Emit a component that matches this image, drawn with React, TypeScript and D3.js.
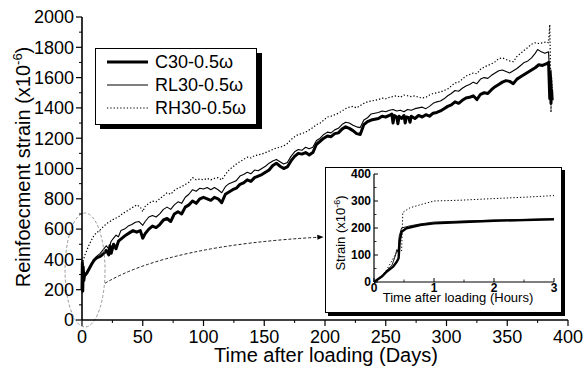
import React from "react";
import * as d3 from "d3";

type P = [number, number];

// Main chart series: [day, strain x10^-6]
const c30Main: P[] = [
  [0, 200], [0.3, 380], [0.6, 190], [1, 350], [1.5, 260], [2, 290], [4, 310], [6, 340], [8, 370], [10, 395],
  [12, 410], [15, 420], [18, 440], [20, 460], [22, 430], [23, 490], [24, 440], [26, 500], [28, 470], [30, 520],
  [33, 540], [36, 560], [39, 575], [42, 590], [45, 580], [48, 590], [50, 540], [52, 570], [55, 600], [58, 620],
  [61, 610], [64, 630], [67, 660], [70, 670], [73, 650], [76, 700], [79, 715], [82, 700], [85, 745], [88, 760],
  [91, 785], [94, 770], [97, 800], [100, 810], [103, 800], [106, 790], [109, 810], [112, 800], [115, 775], [118, 830],
  [121, 845], [124, 860], [127, 870], [130, 895], [133, 905], [136, 925], [139, 915], [142, 940], [145, 950], [148, 960],
  [151, 975], [154, 990], [157, 1020], [160, 1035], [163, 1015], [166, 1000], [169, 1010], [172, 1050], [175, 1080], [178, 1100],
  [181, 1095], [184, 1105], [187, 1090], [190, 1105], [193, 1160], [196, 1180], [199, 1200], [202, 1215], [205, 1210], [208, 1230],
  [211, 1235], [214, 1260], [217, 1275], [220, 1265], [223, 1250], [226, 1230], [229, 1225], [232, 1290], [235, 1310], [238, 1320],
  [241, 1325], [244, 1330], [247, 1345], [250, 1340], [253, 1350], [255, 1360], [256, 1300], [257, 1350], [259, 1340], [260, 1295],
  [261, 1345], [263, 1330], [265, 1350], [266, 1300], [267, 1340], [269, 1335], [270, 1305], [271, 1345], [274, 1330], [277, 1350],
  [280, 1340], [283, 1355], [286, 1345], [289, 1365], [292, 1370], [295, 1380], [298, 1395], [301, 1410], [304, 1420], [307, 1440],
  [310, 1430], [313, 1450], [316, 1465], [319, 1470], [322, 1480], [325, 1455], [328, 1490], [331, 1500], [334, 1495], [337, 1520],
  [340, 1540], [343, 1555], [346, 1570], [349, 1580], [352, 1575], [355, 1560], [358, 1590], [361, 1605], [364, 1620], [367, 1635],
  [370, 1650], [373, 1665], [376, 1685], [379, 1680], [382, 1690], [384, 1700], [385, 1460], [385.5, 1600], [386, 1430], [386.5, 1520], [387, 1450],
];

const rl30Main: P[] = [
  [0, 210], [0.4, 370], [0.8, 250], [1.2, 330], [2, 300], [4, 320], [6, 345], [8, 375], [10, 400], [12, 420],
  [15, 440], [18, 470], [20, 490], [22, 470], [24, 520], [26, 540], [28, 560], [30, 550], [32, 590], [35, 600],
  [38, 620], [41, 630], [44, 645], [47, 650], [50, 625], [52, 650], [55, 680], [58, 690], [61, 680], [64, 700],
  [67, 730], [70, 745], [73, 730], [76, 760], [79, 780], [82, 770], [85, 810], [88, 830], [91, 860], [94, 850],
  [97, 870], [100, 865], [103, 875], [106, 860], [109, 875], [112, 860], [115, 840], [118, 880], [121, 900], [124, 910],
  [127, 920], [130, 950], [133, 960], [136, 975], [139, 965], [142, 990], [145, 985], [148, 1000], [151, 1015], [154, 1035],
  [157, 1050], [160, 1060], [163, 1045], [166, 1030], [169, 1040], [172, 1080], [175, 1110], [178, 1125], [181, 1120], [184, 1140],
  [187, 1130], [190, 1140], [193, 1185], [196, 1200], [199, 1225], [202, 1240], [205, 1235], [208, 1255], [211, 1265], [214, 1290],
  [217, 1305], [220, 1300], [223, 1285], [226, 1275], [229, 1270], [232, 1320], [235, 1335], [238, 1360], [241, 1365], [244, 1370],
  [247, 1380], [250, 1375], [253, 1385], [256, 1390], [259, 1380], [262, 1385], [265, 1375], [268, 1390], [271, 1385], [274, 1395],
  [277, 1400], [280, 1405], [283, 1395], [286, 1410], [289, 1430], [292, 1440], [295, 1445], [298, 1460], [301, 1480], [304, 1495],
  [307, 1515], [310, 1510], [313, 1530], [316, 1545], [319, 1555], [322, 1570], [325, 1560], [328, 1590], [331, 1600], [334, 1595],
  [337, 1615], [340, 1630], [343, 1645], [346, 1650], [349, 1640], [352, 1630], [355, 1645], [358, 1660], [361, 1680], [364, 1700],
  [367, 1710], [370, 1730], [373, 1760], [375, 1785], [378, 1770], [381, 1760], [384, 1770], [385, 1600], [386, 1650], [387, 1530],
];

const rh30Main: P[] = [
  [0, 320], [0.5, 400], [1, 390], [2, 420], [4, 460], [6, 500], [8, 530], [10, 560], [12, 575], [15, 595],
  [18, 620], [21, 640], [24, 655], [27, 670], [30, 680], [33, 700], [36, 715], [39, 730], [42, 745], [45, 760],
  [48, 745], [50, 715], [52, 750], [55, 770], [58, 785], [61, 780], [64, 800], [67, 820], [70, 840], [73, 830],
  [76, 855], [79, 870], [82, 880], [85, 895], [88, 910], [91, 940], [94, 925], [97, 930], [100, 925], [103, 935],
  [106, 925], [109, 935], [112, 940], [115, 925], [118, 960], [121, 990], [124, 1010], [127, 1030], [130, 1045], [133, 1060],
  [136, 1075], [139, 1070], [142, 1085], [145, 1090], [148, 1095], [151, 1105], [154, 1115], [157, 1125], [160, 1135], [163, 1140],
  [166, 1150], [169, 1165], [172, 1190], [175, 1210], [178, 1225], [181, 1230], [184, 1240], [187, 1255], [190, 1270], [193, 1290],
  [196, 1300], [199, 1320], [202, 1340], [205, 1345], [208, 1355], [211, 1365], [214, 1380], [217, 1395], [220, 1405], [223, 1410],
  [226, 1400], [229, 1415], [232, 1430], [235, 1440], [238, 1445], [241, 1450], [244, 1455], [247, 1465], [250, 1460], [253, 1470],
  [256, 1475], [259, 1480], [262, 1470], [265, 1485], [268, 1480], [271, 1475], [274, 1480], [277, 1470], [280, 1465], [283, 1470],
  [286, 1485], [289, 1495], [292, 1500], [295, 1505], [298, 1515], [301, 1525], [304, 1545], [307, 1565], [310, 1570], [313, 1590],
  [316, 1610], [319, 1620], [322, 1630], [325, 1625], [328, 1655], [331, 1670], [334, 1680], [337, 1690], [340, 1705], [343, 1725],
  [346, 1730], [349, 1720], [352, 1710], [355, 1705], [358, 1740], [361, 1760], [364, 1780], [367, 1800], [370, 1820], [373, 1830],
  [376, 1825], [379, 1830], [382, 1835], [384, 1830], [385, 1950], [385.5, 1700], [386, 1370], [386.5, 1600], [387, 1500],
];

// Inset series: [hours, strain]
const c30Inset: P[] = [
  [0, 0], [0.13, 20], [0.21, 38], [0.32, 57], [0.38, 75], [0.41, 88], [0.43, 155], [0.46, 186], [0.54, 199],
  [0.77, 211], [1.0, 217], [1.5, 222], [2.0, 227], [2.5, 229], [3.0, 232],
];
const rl30Inset: P[] = [
  [0, 0], [0.12, 18], [0.2, 40], [0.3, 62], [0.36, 100], [0.38, 120], [0.4, 110], [0.42, 170], [0.46, 200],
  [0.6, 208], [0.77, 215], [1.0, 222], [1.5, 226], [2.0, 229], [2.5, 232], [3.0, 235],
];
const rh30Inset: P[] = [
  [0, 0], [0.1, 15], [0.21, 45], [0.29, 75], [0.41, 125], [0.46, 115], [0.47, 190], [0.48, 258], [0.6, 275],
  [0.77, 286], [1.0, 300], [1.45, 303], [2.0, 309], [2.5, 314], [3.0, 320],
];

const legendLabels = ["C30-0.5ω", "RL30-0.5ω", "RH30-0.5ω"];
const mainXTicks = [0, 50, 100, 150, 200, 250, 300, 350, 400];
const mainYTicks = [0, 200, 400, 600, 800, 1000, 1200, 1400, 1600, 1800, 2000];
const insetXTicks = [0, 1, 2, 3];
const insetYTicks = [0, 100, 200, 300, 400];

const FONT = "'Liberation Sans', Arial, Helvetica, sans-serif";

const styles = [
  { width: 3, dash: undefined as string | undefined },
  { width: 1.1, dash: undefined as string | undefined },
  { width: 1.2, dash: "1.3,2" },
];

export default function App() {
  const x = d3.scaleLinear().domain([0, 400]).range([82, 568]);
  const y = d3.scaleLinear().domain([0, 2000]).range([320, 17]);
  const line = d3.line<P>().x((d) => x(d[0])).y((d) => y(d[1]));

  const ix = d3.scaleLinear().domain([0, 3]).range([374, 554]);
  const iy = d3.scaleLinear().domain([0, 400]).range([282, 174]);
  const iline = d3.line<P>().x((d) => ix(d[0])).y((d) => iy(d[1]));

  const mainSeries = [c30Main, rl30Main, rh30Main];
  const insetSeries = [c30Inset, rl30Inset, rh30Inset];

  const xMinor = d3.range(0, 401, 25).filter((v) => v % 50 !== 0);
  const yMinor = d3.range(0, 2001, 100).filter((v) => v % 200 !== 0);
  const ixMinor = [0.5, 1.5, 2.5];
  const iyMinor = [50, 150, 250, 350];

  // arrow geometry
  const a0: P = [x(19), y(243)];
  const a1: P = [170, 245];
  const a2: P = [323, 237];

  return (
    <svg
      width={584}
      height={369}
      style={{ position: "absolute", left: 0, top: 0, background: "#fff" }}
      fontFamily={FONT}
    >
      <defs>
        <marker id="arr" viewBox="0 0 10 10" refX="9" refY="5" markerWidth="7" markerHeight="7" orient="auto">
          <path d="M0,1 L10,5 L0,9 z" fill="#000" />
        </marker>
      </defs>
      <rect x={0} y={0} width={584} height={369} fill="#fff" />

      {/* main data */}
      {mainSeries.map((s, i) => (
        <path
          key={i}
          d={line(s) || ""}
          fill="none"
          stroke="#000"
          strokeWidth={styles[i].width}
          strokeDasharray={styles[i].dash}
          strokeLinejoin="round"
        />
      ))}

      {/* ellipse annotation */}
      <ellipse cx={x(2.5)} cy={y(330)} rx={20} ry={57} fill="none" stroke="#999" strokeWidth={1} strokeDasharray="3,2" />
      <path
        d={`M${a0[0]},${a0[1]} Q${a1[0]},${a1[1]} ${a2[0]},${a2[1]}`}
        fill="none"
        stroke="#000"
        strokeWidth={0.9}
        strokeDasharray="3,2"
        markerEnd="url(#arr)"
      />

      {/* main axes */}
      <line x1={82} x2={82} y1={y(2000)} y2={320} stroke="#000" strokeWidth={1.6} />
      <line x1={82} x2={568} y1={320} y2={320} stroke="#000" strokeWidth={1.6} />
      {mainYTicks.map((t) => (
        <g key={"yt" + t}>
          <line x1={76} x2={82} y1={y(t)} y2={y(t)} stroke="#000" strokeWidth={1.2} />
          <text x={74} y={y(t)} dy="0.35em" textAnchor="end" fontSize={18}>
            {t}
          </text>
        </g>
      ))}
      {yMinor.map((t) => (
        <line key={"ym" + t} x1={79} x2={82} y1={y(t)} y2={y(t)} stroke="#000" strokeWidth={1} />
      ))}
      {mainXTicks.map((t) => (
        <g key={"xt" + t}>
          <line x1={x(t)} x2={x(t)} y1={320} y2={326} stroke="#000" strokeWidth={1.2} />
          <text x={x(t)} y={343} textAnchor="middle" fontSize={18}>
            {t}
          </text>
        </g>
      ))}
      {xMinor.map((t) => (
        <line key={"xm" + t} x1={x(t)} x2={x(t)} y1={320} y2={323} stroke="#000" strokeWidth={1} />
      ))}
      <text x={326} y={362} textAnchor="middle" fontSize={20}>
        Time after loading (Days)
      </text>
      <text transform="translate(30,167) rotate(-90)" textAnchor="middle" fontSize={20}>
        Reinfoecment strain (x10
        <tspan dy={-8} fontSize={13}>-6</tspan>
        <tspan dy={8}>)</tspan>
      </text>

      {/* legend */}
      <rect x={100} y={53} width={162} height={76} fill="#000" />
      <rect x={95.5} y={48.5} width={161} height={76} fill="#fff" stroke="#000" strokeWidth={1} />
      {legendLabels.map((lab, i) => (
        <g key={lab}>
          <line
            x1={107}
            x2={148}
            y1={62 + i * 23}
            y2={62 + i * 23}
            stroke="#000"
            strokeWidth={styles[i].width}
            strokeDasharray={styles[i].dash}
          />
          <text x={155} y={62 + i * 23} dy="0.35em" fontSize={18}>
            {lab}
          </text>
        </g>
      ))}

      {/* inset */}
      <rect x={328} y={170} width={237} height={146} fill="#000" />
      <rect x={325.5} y={167.5} width={236} height={145} fill="#fff" stroke="#000" strokeWidth={1} />
      {insetSeries.map((s, i) => (
        <path
          key={"in" + i}
          d={iline(s) || ""}
          fill="none"
          stroke="#000"
          strokeWidth={i === 0 ? 2.4 : i === 1 ? 0.9 : 1}
          strokeDasharray={styles[i].dash}
          strokeLinejoin="round"
        />
      ))}
      <line x1={374} x2={374} y1={iy(400)} y2={iy(0)} stroke="#000" strokeWidth={1.2} />
      <line x1={374} x2={554} y1={iy(0)} y2={iy(0)} stroke="#000" strokeWidth={1.2} />
      {insetYTicks.map((t) => (
        <g key={"iyt" + t}>
          <line x1={374} x2={378} y1={iy(t)} y2={iy(t)} stroke="#000" strokeWidth={1} />
          <text x={371} y={iy(t)} dy="0.35em" textAnchor="end" fontSize={12} fontWeight="bold">
            {t}
          </text>
        </g>
      ))}
      {iyMinor.map((t) => (
        <line key={"iym" + t} x1={374} x2={376.5} y1={iy(t)} y2={iy(t)} stroke="#000" strokeWidth={0.8} />
      ))}
      {insetXTicks.map((t) => (
        <g key={"ixt" + t}>
          <line x1={ix(t)} x2={ix(t)} y1={iy(0)} y2={iy(0) - 4} stroke="#000" strokeWidth={1} />
          <text x={ix(t)} y={292} textAnchor="middle" fontSize={12} fontWeight="bold">
            {t}
          </text>
        </g>
      ))}
      {ixMinor.map((t) => (
        <line key={"ixm" + t} x1={ix(t)} x2={ix(t)} y1={iy(0)} y2={iy(0) - 2.5} stroke="#000" strokeWidth={0.8} />
      ))}
      <text x={458} y={302} textAnchor="middle" fontSize={13}>
        Time after loading (Hours)
      </text>
      <text transform="translate(345,233) rotate(-90)" textAnchor="middle" fontSize={13}>
        Strain (x10
        <tspan dy={-5} fontSize={9}>-6</tspan>
        <tspan dy={5}>)</tspan>
      </text>
    </svg>
  );
}
